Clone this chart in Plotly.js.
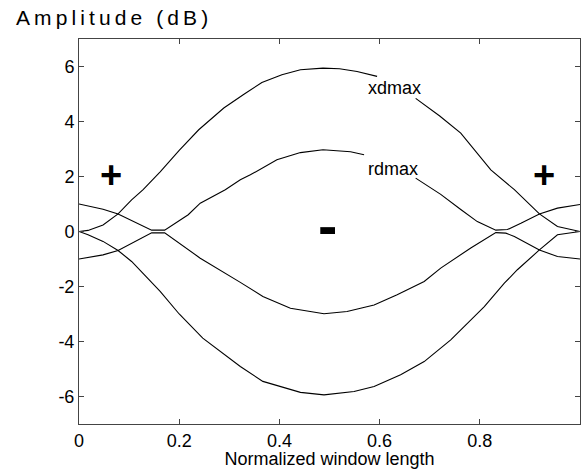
<!DOCTYPE html>
<html>
<head>
<meta charset="utf-8">
<script src="https://cdn.plot.ly/plotly-3.0.1.min.js"></script>
<style>
  html, body { margin: 0; padding: 0; background: #fff; }
  #chart { width: 581px; height: 469px; }
  .annotation[data-index="0"] text { letter-spacing: 4.1px; }
</style>
</head>
<body>
<div id="chart"></div>
<script>
// ---- data ----
const xdmaxUpperX = [0, 0.018, 0.048, 0.078, 0.105, 0.128, 0.162, 0.2, 0.239, 0.289, 0.33, 0.365, 0.405, 0.442, 0.487, 0.52, 0.555, 0.595, null, 0.672, 0.72, 0.762, 0.822, 0.869, 0.919, 0.955, 1];
const xdmaxUpperY = [0, 0.04, 0.24, 0.64, 1.15, 1.52, 2.17, 2.95, 3.7, 4.49, 5.0, 5.42, 5.7, 5.88, 5.94, 5.92, 5.82, 5.64, null, 4.84, 4.2, 3.58, 2.24, 1.52, 0.64, 0.18, 0];

const xdmaxLowerX = [0, 0.018, 0.048, 0.078, 0.105, 0.121, 0.162, 0.2, 0.247, 0.322, 0.367, 0.442, 0.489, 0.549, 0.589, 0.642, 0.689, 0.742, 0.809, 0.849, 0.875, 0.919, 0.955, 1];
const xdmaxLowerY = [0, -0.12, -0.36, -0.69, -1.09, -1.39, -2.18, -3.0, -3.88, -4.91, -5.45, -5.85, -5.94, -5.82, -5.64, -5.21, -4.73, -3.94, -2.73, -1.88, -1.39, -0.67, -0.12, 0];

const rdmaxUpperX = [0, 0.048, 0.078, 0.118, 0.145, 0.171, 0.218, 0.242, 0.292, 0.322, 0.342, 0.395, 0.442, 0.487, 0.542, 0.569, null, 0.672, 0.722, 0.762, 0.795, 0.832, 0.855, 0.882, 0.919, 0.955, 1];
const rdmaxUpperY = [1.0, 0.81, 0.64, 0.3, 0.05, 0.05, 0.61, 1.03, 1.52, 1.88, 2.06, 2.61, 2.87, 2.97, 2.9, 2.79, null, 1.94, 1.35, 0.8, 0.36, 0.05, 0.07, 0.3, 0.64, 0.85, 0.98];

const rdmaxLowerX = [0, 0.048, 0.078, 0.118, 0.145, 0.171, 0.218, 0.242, 0.322, 0.367, 0.422, 0.489, 0.535, 0.589, 0.635, 0.689, 0.722, 0.762, 0.782, 0.832, 0.852, 0.869, 0.919, 0.955, 1];
const rdmaxLowerY = [-1.0, -0.85, -0.69, -0.3, -0.05, -0.05, -0.67, -0.97, -1.85, -2.36, -2.79, -2.99, -2.91, -2.67, -2.3, -1.82, -1.33, -0.85, -0.6, -0.04, -0.06, -0.18, -0.67, -0.91, -1.0];

const xTickVals = [0, 0.2, 0.4, 0.6, 0.8, 1];
const xTickText = ["0", "0.2", "0.4", "0.6", "0.8", "1"];
const yTickVals = [-6, -4, -2, 0, 2, 4, 6];
const yTickText = ["-6", "-4", "-2", "0", "2", "4", "6"];

const labelText = ["xdmax", "rdmax"];
const labelX = [0.629, 0.627];
const labelY = [5.22, 2.28];

const signText = ["+", "+", "-"];
const signX = [0.064, 0.929, 0.496];
const signY = [2.05, 2.05, 0.22];

// ---- traces ----
const lineStyle = {color: '#000', width: 1.1};
function mk(x, y) {
  return {x: x, y: y, type: 'scatter', mode: 'lines', line: lineStyle,
          connectgaps: false, showlegend: false, hoverinfo: 'skip'};
}
const traces = [
  mk(xdmaxUpperX, xdmaxUpperY),
  mk(xdmaxLowerX, xdmaxLowerY),
  mk(rdmaxUpperX, rdmaxUpperY),
  mk(rdmaxLowerX, rdmaxLowerY)
];

const font = 'Liberation Sans, Arial, Helvetica, sans-serif';
const annotations = [
  {text: 'Amplitude (dB)', xref: 'paper', yref: 'paper', x: -0.1297, y: 1.056,
   xanchor: 'left', yanchor: 'middle', align: 'left', showarrow: false,
   font: {family: font, size: 21, color: '#000'}}
];
labelText.forEach((t, i) => annotations.push({
  text: t, x: labelX[i], y: labelY[i], xref: 'x', yref: 'y', showarrow: false,
  xanchor: 'center', yanchor: 'middle', font: {family: font, size: 18, color: '#000'}
}));
signText.forEach((t, i) => annotations.push({
  text: t, x: signX[i], y: signY[i], xref: 'x', yref: 'y', showarrow: false,
  xanchor: 'center', yanchor: 'middle',
  font: {family: font, size: t === '+' ? 38 : 58, color: '#000', weight: 'bold'}
}));

const axisCommon = {
  showline: true, mirror: 'ticks', linecolor: '#444', linewidth: 1,
  ticks: 'inside', ticklen: 5, tickcolor: '#444', tickwidth: 1,
  showgrid: false, zeroline: false,
  tickfont: {family: font, size: 18, color: '#000'}
};

const layout = {
  width: 581, height: 469,
  margin: {l: 79, r: 1, t: 39, b: 45},
  paper_bgcolor: '#fff', plot_bgcolor: '#fff',
  xaxis: Object.assign({}, axisCommon, {
    range: [0, 1], tickmode: 'array', tickvals: xTickVals, ticktext: xTickText,
    title: {text: 'Normalized window length', font: {family: font, size: 18, color: '#000'}, standoff: 4}
  }),
  yaxis: Object.assign({}, axisCommon, {
    range: [-7, 7], tickmode: 'array', tickvals: yTickVals, ticktext: yTickText
  }),
  annotations: annotations
};

Plotly.newPlot('chart', traces, layout, {staticPlot: true, displayModeBar: false});
</script>
</body>
</html>
